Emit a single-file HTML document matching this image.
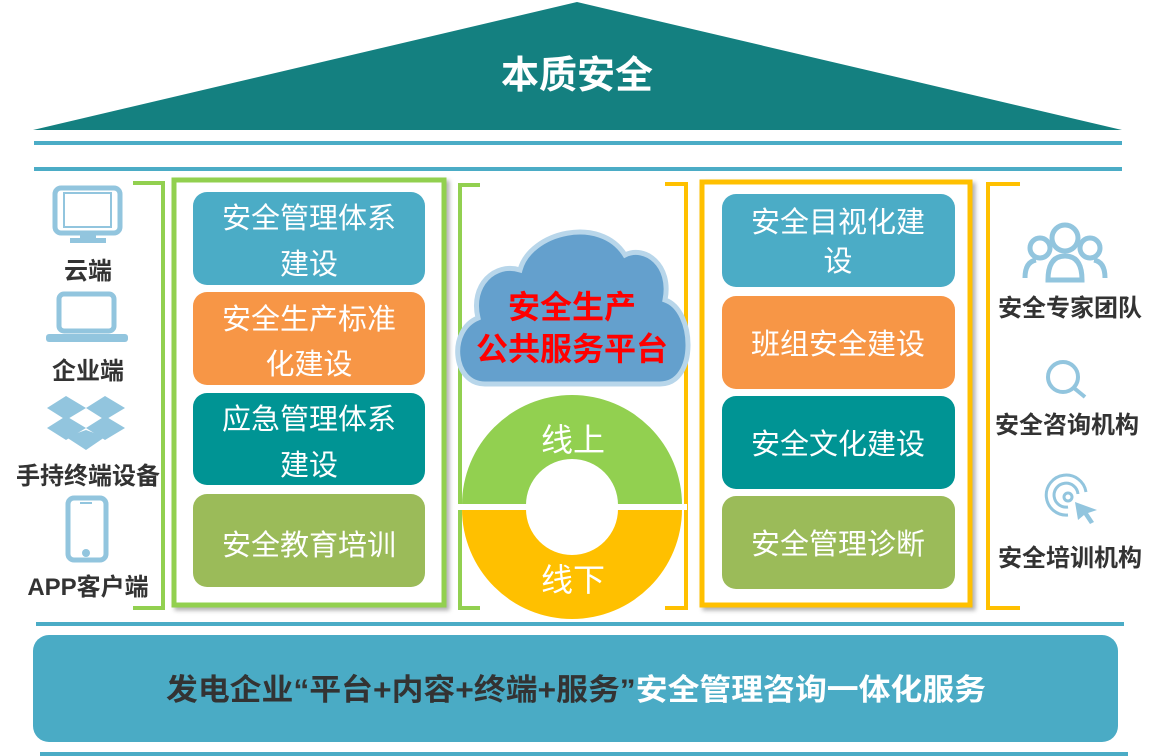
<!DOCTYPE html>
<html><head><meta charset="utf-8"><style>
html,body{margin:0;padding:0;background:#fff;}
svg{display:block;}
text{font-family:"Liberation Sans","Noto Sans CJK SC","WenQuanYi Zen Hei",sans-serif;}
</style></head><body>
<svg width="1158" height="756" viewBox="0 0 1158 756" xmlns="http://www.w3.org/2000/svg">
<defs>
<filter id="sh" x="-5%" y="-5%" width="115%" height="115%"><feDropShadow dx="3" dy="3" stdDeviation="2" flood-color="#000" flood-opacity="0.3"/></filter>
</defs>
<polygon points="577,2 1122,130 33,130" fill="#148080"/>
<text x="577" y="88" font-size="38" font-weight="bold" fill="#fff" text-anchor="middle">本质安全</text>
<rect x="34" y="141" width="1088" height="4" fill="#4bacc6"/>
<rect x="34" y="167" width="1088" height="4" fill="#4bacc6"/>
<rect x="36" y="622" width="1088" height="4" fill="#4bacc6"/>
<rect x="40" y="752" width="1088" height="4" fill="#4bacc6"/>
<rect x="33" y="635" width="1085" height="107" rx="16" fill="#4aabc5"/>
<text x="576" y="700" font-size="30" font-weight="bold" text-anchor="middle" textLength="820" lengthAdjust="spacingAndGlyphs"><tspan fill="#333">发电企业“平台+内容+终端+服务”</tspan><tspan fill="#fff">安全管理咨询一体化服务</tspan></text>

<g fill="none" stroke="#92c5de" stroke-width="5">
<rect x="55" y="188" width="65" height="45" rx="6"/>
<rect x="59" y="294" width="55" height="37" rx="5"/>
<rect x="68" y="498" width="38" height="62" rx="6"/>
</g>
<rect x="64" y="193" width="47" height="34" fill="#fff" stroke="#92c5de" stroke-width="2"/>
<rect x="70" y="238" width="36" height="5" fill="#92c5de"/>
<rect x="80" y="232" width="16" height="8" fill="#92c5de"/>
<rect x="46" y="334" width="82" height="8" rx="3" fill="#92c5de"/>
<g fill="#92c5de">
<polygon points="47,408 66,396 86,408 66,420"/>
<polygon points="86,408 105,396 125,408 105,420"/>
<polygon points="47,428 66,416 86,428 66,440"/>
<polygon points="86,428 105,416 125,428 105,440"/>
<polygon points="66,437 86,430 105,437 86,450"/>
<circle cx="86" cy="553" r="4"/>
<rect x="80" y="502" width="12" height="2"/>
</g>
<g font-size="24" font-weight="bold" fill="#333" text-anchor="middle">
<text x="88" y="279">云端</text>
<text x="88" y="379">企业端</text>
<text x="88" y="484">手持终端设备</text>
<text x="88" y="595">APP客户端</text>
</g>
<g fill="none" stroke-width="4">
<polyline points="133,183 163,183 163,608 133,608" stroke="#92d050"/>
<polyline points="480,185 460,185 460,608 480,608" stroke="#92d050"/>
<polyline points="665,184 686,184 686,608 665,608" stroke="#ffc000"/>
<polyline points="1020,184 988,184 988,608 1020,608" stroke="#ffc000"/>
</g>
<rect x="174" y="180" width="270" height="425" fill="#fff" stroke="#92d050" stroke-width="5" filter="url(#sh)"/>
<rect x="193" y="192" width="232" height="93" rx="14" fill="#4bacc6"/>
<rect x="193" y="292" width="232" height="93" rx="14" fill="#f79646"/>
<rect x="193" y="393" width="232" height="92" rx="14" fill="#009494"/>
<rect x="193" y="494" width="232" height="93" rx="14" fill="#9bbb59"/>
<g font-size="29" fill="#fff" text-anchor="middle">
<text x="309" y="228">安全管理体系</text><text x="309" y="274">建设</text>
<text x="309" y="329">安全生产标准</text><text x="309" y="374">化建设</text>
<text x="309" y="429">应急管理体系</text><text x="309" y="475">建设</text>
<text x="309" y="555">安全教育培训</text>
</g>
<rect x="702" y="182" width="268" height="423" fill="#fff" stroke="#ffc000" stroke-width="5" filter="url(#sh)"/>
<rect x="722" y="194" width="233" height="93" rx="14" fill="#4bacc6"/>
<rect x="722" y="296" width="233" height="93" rx="14" fill="#f79646"/>
<rect x="722" y="396" width="233" height="93" rx="14" fill="#009494"/>
<rect x="722" y="496" width="233" height="93" rx="14" fill="#9bbb59"/>
<g font-size="29" fill="#fff" text-anchor="middle">
<text x="838" y="232">安全目视化建</text><text x="838" y="271">设</text>
<text x="838" y="354">班组安全建设</text>
<text x="838" y="454">安全文化建设</text>
<text x="838" y="554">安全管理诊断</text>
</g>
<path d="M485,384 C452,384 448,330 478,318 C470,285 495,262 520,270 C530,232 600,215 625,255 C645,245 672,265 665,300 C695,310 698,384 660,384 Z" fill="#64a0cd" stroke="#b8d6ea" stroke-width="5"/>
<g font-size="32" font-weight="bold" fill="#ff0000" text-anchor="middle">
<text x="572" y="318">安全生产</text>
<text x="572" y="360">公共服务平台</text>
</g>
<path d="M462,505 A110,110 0 0 1 682,505 L618,505 A46,46 0 0 0 526,505 Z" fill="#92d050"/>
<path d="M462,509 A110,110 0 0 0 682,509 L618,509 A46,46 0 0 1 526,509 Z" fill="#ffc000"/>
<rect x="457" y="504" width="230" height="6" fill="#fff"/>
<text x="573" y="451" font-size="32" fill="#fff" text-anchor="middle">线上</text>
<text x="573" y="591" font-size="32" fill="#fff" text-anchor="middle">线下</text>
<g fill="none" stroke="#92c5de" stroke-width="5">
<circle cx="1065" cy="238" r="13"/>
<circle cx="1040" cy="248" r="10"/>
<circle cx="1090" cy="248" r="10"/>
<path d="M1048,280 Q1048,256 1065,256 Q1082,256 1082,280 Z"/>
<path d="M1025,278 Q1025,262 1036,260 M1105,278 Q1105,262 1094,260"/>
<circle cx="1063" cy="377" r="15" stroke-width="4"/>
<line x1="1074" y1="388" x2="1085" y2="397" stroke-width="4"/>
<path d="M1086,492 A20,20 0 1 0 1068,515" stroke-width="3"/>
<path d="M1078,494 A12,12 0 1 0 1068,507" stroke-width="3"/>
<circle cx="1068" cy="497" r="4" stroke-width="3"/>
</g>
<polygon points="1075,502 1097,510 1088,513 1094,522 1090,524 1084,515 1078,520" fill="#92c5de"/>
<g font-size="24" font-weight="bold" fill="#333" text-anchor="middle">
<text x="1070" y="316">安全专家团队</text>
<text x="1067" y="433">安全咨询机构</text>
<text x="1070" y="566">安全培训机构</text>
</g>
</svg>
</body></html>
